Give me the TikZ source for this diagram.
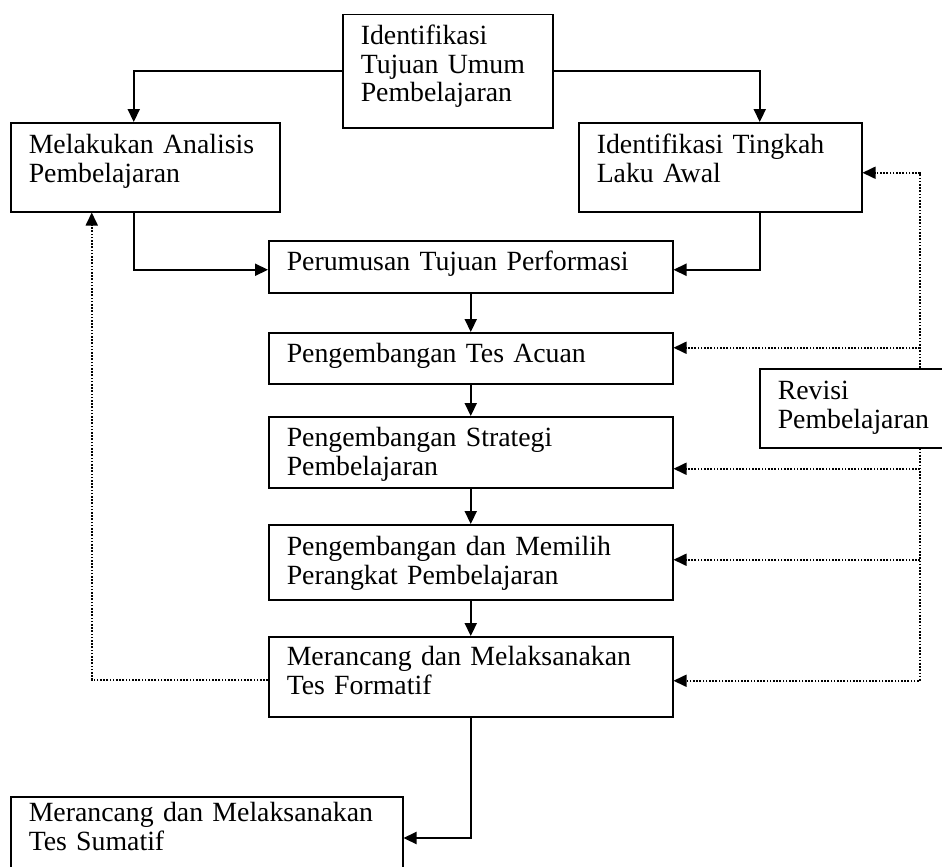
\documentclass[tikz,border=0pt]{standalone}
\usepackage{fontspec}
\setmainfont{Liberation Serif}
\usetikzlibrary{arrows.meta}
\tikzset{
  box/.style={draw, line width=1.5pt, fill=white, anchor=north west, align=left,
    inner xsep=18pt, inner ysep=0pt, text height=30pt,
    font=\fontsize{27.8}{28.6}\selectfont},
  flow/.style={line width=2.2pt},
  rev/.style={line width=1.7pt, dash pattern=on 1.7pt off 1.5pt},
}
\begin{document}
\begin{tikzpicture}[->, >={Triangle[length=13pt, width=12pt]}, x=1pt, y=-1pt]
    \useasboundingbox (0,0) rectangle (942,867);
    \node [box, text width=174pt, text depth=83pt] (tujuan) at (342,14) {Identifikasi\\Tujuan Umum\\Pembelajaran};
    \node [box, text width=233pt, text depth=58pt, text height=31pt] (analisis) at (10,122) {Melakukan Analisis\\Pembelajaran};
    \node [box, text width=247pt, text depth=58pt, text height=31pt] (awal) at (578,122) {Identifikasi Tingkah\\Laku Awal};
    \node [box, text width=368pt, text depth=22pt] (perumusan) at (268,240) {Perumusan Tujuan Performasi};
    \node [box, text width=368pt, text depth=21pt] (acuan) at (268,332) {Pengembangan Tes Acuan};
    \node [box, text width=368pt, text depth=41pt] (strategi) at (268,416) {Pengembangan Strategi\\Pembelajaran};
    \node [box, text width=368pt, text depth=44pt, text height=31pt] (memilih) at (268,524) {Pengembangan dan Memilih\\Perangkat Pembelajaran};
    \node [box, text width=368pt, text depth=51pt, text height=29pt] (formatif) at (268,636) {Merancang dan Melaksanakan\\Tes Formatif};
    \node [box, text width=356pt, text depth=80pt, text height=25pt] (sumatif) at (10,796) {Merancang dan Melaksanakan\\Tes Sumatif};
    \node [box, text width=200pt, text depth=48pt, text height=31pt] (revisi) at (759,368) {Revisi\\Pembelajaran};
    \coordinate (rline) at (920,0);

    % main flow
    \draw [flow] (tujuan.west) -| ([xshift=-11.5pt]analisis.north);
    \draw [flow] (tujuan.east) -| ([xshift=39.5pt]awal.north);
    \draw [flow] ([xshift=-11.5pt]analisis.south) |- ([yshift=-3pt]perumusan.west);
    \draw [flow] ([xshift=39.5pt]awal.south) |- ([yshift=-3pt]perumusan.east);
    \foreach \a/\b in {perumusan/acuan, acuan/strategi, strategi/memilih, memilih/formatif}
        \draw [flow] (\a.south) -- (\b.north);
    \draw [flow] (formatif.south) |- ([yshift=-42pt]sumatif.north east);

    % revisi feedback
    \draw [rev] (revisi.north -| rline) |- ([yshift=-5.5pt]awal.east);
    \draw [rev] (revisi.south -| rline) |- ([yshift=-4pt]formatif.east);
    \foreach \n/\s in {acuan/10.5, strategi/-16.5, memilih/2.5}
        \draw [rev] ([yshift=\s pt]\n.east -| rline) -- ([yshift=\s pt]\n.east);
    \draw [rev] ([yshift=-3pt]formatif.west) -| ([xshift=-53.5pt]analisis.south);
\end{tikzpicture}
\end{document}
